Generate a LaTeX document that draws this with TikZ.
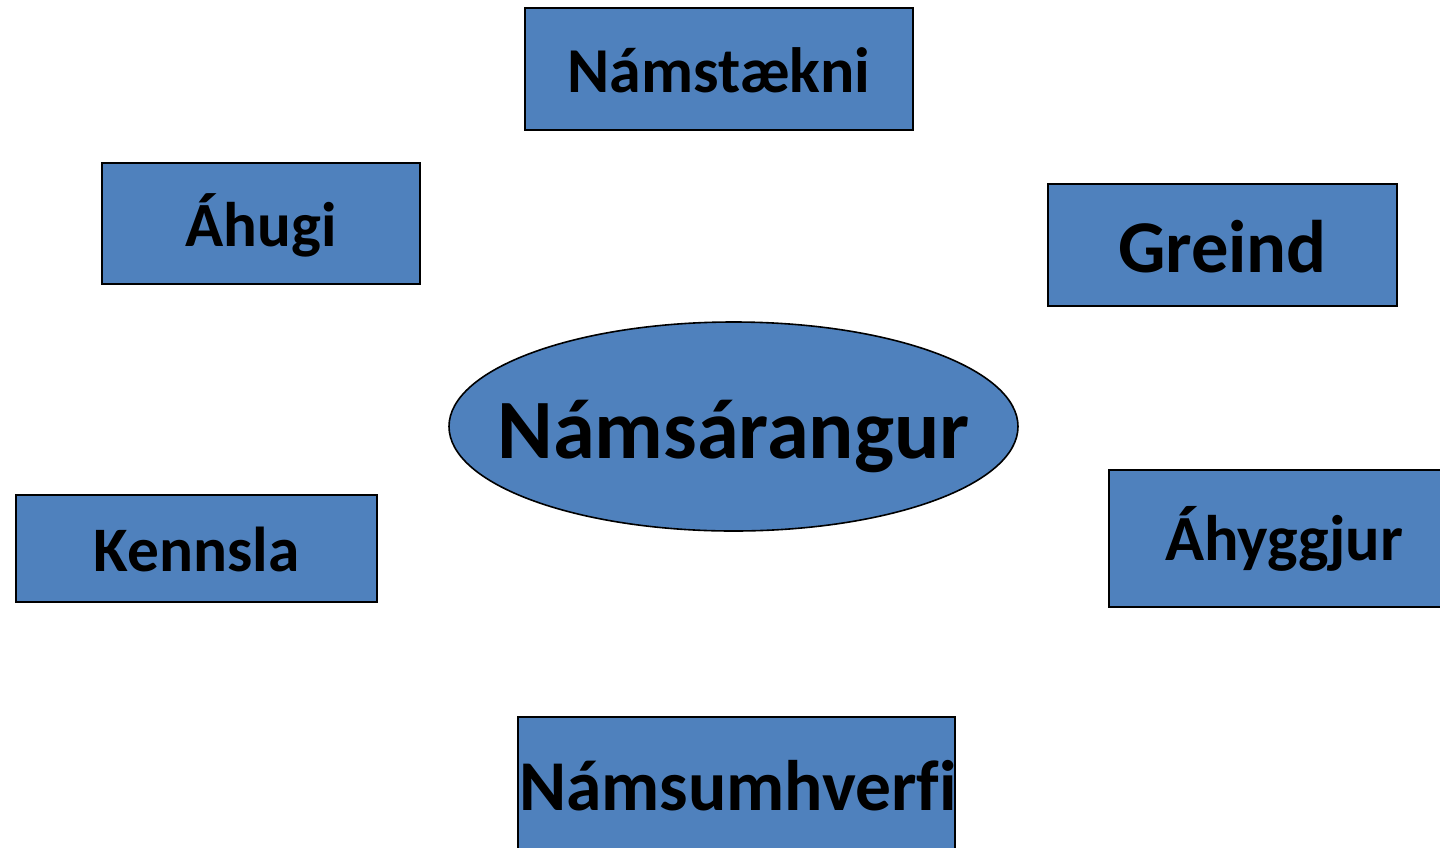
\documentclass[tikz,border=0pt]{standalone}
\usepackage{fontspec}
\setmainfont{Carlito}
\usetikzlibrary{shapes.geometric}
\definecolor{boxblue}{HTML}{4F81BD}
\tikzset{
  base/.style={draw=black, fill=boxblue, inner sep=0pt, text=black, text depth=0pt},
  topic/.style={base, rectangle, line width=2.5pt},
  hub/.style={base, ellipse, line width=1.6pt}
}
\begin{document}
\begin{tikzpicture}[x=1pt,y=-1pt]
\useasboundingbox (0,0) rectangle (1440,847);
\clip (0,0) rectangle (1440,847);
\node[topic, minimum width=388pt, minimum height=122pt, text height=46pt, font=\fontsize{64}{76}\bfseries\selectfont] (namstaekni) at (719,69) {Námstækni};
\node[topic, minimum width=318pt, minimum height=121pt, text height=46pt, font=\fontsize{63}{76}\bfseries\selectfont] (ahugi) at (261,223.5) {Áhugi};
\node[topic, minimum width=349pt, minimum height=122pt, text height=54pt, font=\fontsize{74.5}{88}\bfseries\selectfont] (greind) at (1222.5,245) {Greind};
\node[hub, minimum width=569pt, minimum height=209pt, text height=63pt, font=\fontsize{84.5}{100}\bfseries\selectfont] (hub) at (733.5,426.5) {\makebox[0pt]{Námsárangur}};
\node[topic, minimum width=361pt, minimum height=107pt, text height=46pt, font=\fontsize{63.4}{76}\bfseries\selectfont] (kennsla) at (196.5,548.5) {Kennsla};
\node[topic, minimum width=350pt, minimum height=137pt, text height=43pt, font=\fontsize{64.4}{76}\bfseries\selectfont] (ahyggjur) at (1284,538.5) {Áhyggjur};
\node[topic, minimum width=437pt, minimum height=134pt, text height=52pt, font=\fontsize{71.5}{84}\bfseries\selectfont\addfontfeature{Ligatures=NoCommon}] (namsumhverfi) at (736.5,784) {\makebox[0pt]{\hspace{3pt}Námsumhverfi}};
\end{tikzpicture}
\end{document}
